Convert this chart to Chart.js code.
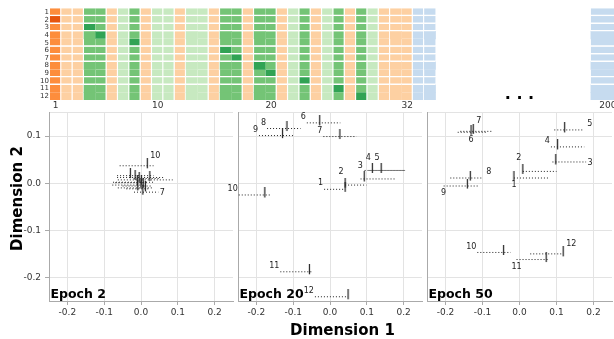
<!DOCTYPE html>
<html><head><meta charset="utf-8">
<script src="https://cdn.jsdelivr.net/npm/chart.js@4.4.0/dist/chart.umd.min.js"></script>
<style>
html,body{margin:0;padding:0;background:#fff;overflow:hidden;width:614px;height:339px;position:relative;}
canvas{position:absolute;}
</style></head><body>
<canvas id="heat" width="614" height="112" style="left:0;top:0"></canvas>
<canvas id="p1" width="238" height="234" style="left:0;top:105px"></canvas>
<canvas id="p2" width="201" height="234" style="left:226px;top:105px"></canvas>
<canvas id="p3" width="202" height="234" style="left:415px;top:105px"></canvas>
<script>
// ---------------- DATA ----------------
const heatRowLabels = ['1','2','3','4','5','6','7','8','9','10','11','12'];
const heatColLabels = ['1','2','3','4','5','6','7','8','9','10','11','12','13','14','15','16','17','18','19','20','21','22','23','24','25','26','27','28','29','30','31','32','33','34','200'];
const heatColClass  = ['O','o','o','G','G','o','g','G','o','g','g','o','g','g','o','G','G','o','G','G','o','g','G','o','g','G','o','G','g','o','o','o','b','b','b'];
const heatDarkCells = [[2,1],[3,4],[4,5],[5,8],[6,16],[7,17],[8,19],[9,20],[10,23],[11,26],[12,28]];
const heatTickLabels = ['1','10','20','32','200'];

const pointLabels = ['1','2','3','4','5','6','7','8','9','10','11','12'];
const epochTitles = ['Epoch 2','Epoch 20','Epoch 50'];
const dim1Ticks = [-0.2,-0.1,0.0,0.1,0.2];
const dim2Ticks = [-0.2,-0.1,0.0,0.1];

const e2X  = [-0.029,-0.016,-0.005, 0.001, 0.006, 0.024, 0.005,-0.009, 0.000, 0.017, 0.012,-0.010];
const e2Y  = [ 0.016, 0.012, 0.007, 0.002,-0.004, 0.010,-0.019,-0.010,-0.006, 0.037,-0.012, 0.001];
const e2Lo = [-0.065,-0.065,-0.063,-0.076,-0.078,-0.020,-0.019,-0.063,-0.050,-0.058,-0.040,-0.070];
const e2Hi = [ 0.034, 0.061, 0.086, 0.034, 0.008, 0.050, 0.047, 0.034, 0.030, 0.034, 0.025, 0.015];

const e20X  = [ 0.041, 0.041, 0.093, 0.115, 0.139,-0.028, 0.027,-0.117,-0.129,-0.177,-0.056, 0.049];
const e20Y  = [-0.013,-0.004, 0.009, 0.027, 0.027, 0.128, 0.099, 0.116, 0.101,-0.025,-0.188,-0.241];
const e20Lo = [-0.016, 0.041, 0.083, 0.094, 0.107,-0.063,-0.018,-0.171,-0.193,-0.248,-0.135,-0.041];
const e20Hi = [ 0.041, 0.099, 0.178, 0.205, 0.205, 0.028, 0.072,-0.080,-0.100,-0.159,-0.047, 0.049];

const e50X  = [-0.015, 0.009, 0.098, 0.103, 0.122,-0.131,-0.125,-0.133,-0.141,-0.043, 0.072, 0.118];
const e50Y  = [ 0.011, 0.025, 0.045, 0.077, 0.113, 0.108, 0.110, 0.011,-0.006,-0.147,-0.162,-0.150];
const e50Lo = [-0.015, 0.009, 0.089, 0.085, 0.094,-0.167,-0.160,-0.187,-0.205,-0.114,-0.008, 0.029];
const e50Hi = [ 0.078, 0.100, 0.180, 0.175, 0.175,-0.086,-0.073,-0.098,-0.112,-0.024, 0.080, 0.118];

// label placement (style): l=left of interval, a=above tick, ar=above-right, r=right, rm=right-middle, b=below, bl=below start
const e2Lab  = [null,null,null,null,null,null,'rm',null,null,'ar',null,null];
const e20Lab = ['l','a','a','a','a','l','l','l','l','l','l','l'];
const e50Lab = ['bl','a','rm','l','r','b','ar','r','bl','l','bl','ar'];

// ---------------- STYLE / LAYOUT ----------------
Chart.defaults.font.family = '"DejaVu Sans", sans-serif';
const CLASS_COLORS = {O:'#fd8d3c', o:'#fdd0a2', G:'#74c476', g:'#c7e9c0', b:'#c6dbef'};
const DARK_COLORS = {O:'#e6550d', G:'#31a354'};
const NO_GAP_AFTER_COL = ['4','13','16','19','31','34','200'];
const NO_GAP_AFTER_ROW = ['4','8','11','12'];
const COL200_SLOT = 49.7, COL200_WIDTH = 34, ELLIPSIS_SLOT = 41.9, LAST_DIRECT_COL = 34;
const slotOf = c => (+c <= LAST_DIRECT_COL ? +c : COL200_SLOT);
const isDark = (r, c) => heatDarkCells.some(([rr, cc]) => String(rr) === r && String(cc) === c);

const heatDatasets = [];
const mainIdx = heatColLabels.map((c,i)=>i).filter(i => +heatColLabels[i] <= LAST_DIRECT_COL);
const farIdx  = heatColLabels.map((c,i)=>i).filter(i => +heatColLabels[i] >  LAST_DIRECT_COL);
heatRowLabels.forEach((r) => {
  const mk = (idxs, extra) => Object.assign({
    data: idxs.map(i => ({x: slotOf(heatColLabels[i]), y: 1})),
    backgroundColor: idxs.map(i => {
      const cls = heatColClass[i];
      return isDark(r, heatColLabels[i]) ? DARK_COLORS[cls] : CLASS_COLORS[cls];
    }),
    borderColor: '#ffffff',
    borderWidth: idxs.map(i => ({top:0, left:0,
      right: NO_GAP_AFTER_COL.includes(heatColLabels[i]) ? 0 : 1.5,
      bottom: NO_GAP_AFTER_ROW.includes(r) ? 0 : 1.5})),
    borderSkipped: false,
    barPercentage: 1, categoryPercentage: 1
  }, extra);
  heatDatasets.push(mk(mainIdx, {}));
  heatDatasets.push(mk(farIdx, {barThickness: COL200_WIDTH}));
});

const ellipsisPlugin = {
  id: 'ellipsis',
  afterDraw(chart) {
    const ctx = chart.ctx;
    const x = chart.scales.x.getPixelForValue(ELLIPSIS_SLOT);
    ctx.save();
    ctx.font = 'bold 16px "DejaVu Sans"';
    ctx.fillStyle = '#000';
    ctx.textAlign = 'center';
    ctx.textBaseline = 'alphabetic';
    ctx.fillText('. . .', x, 99.3);
    ctx.restore();
  }
};

new Chart(document.getElementById('heat'), {
  type: 'bar',
  data: {datasets: heatDatasets},
  options: {
    responsive: false, animation: false, events: [],
    layout: {padding: {top: 8.3, left: 0, right: 0, bottom: 0}},
    plugins: {legend: {display: false}, tooltip: {enabled: false}},
    scales: {
      x: {type: 'linear', stacked: true, offset: false, min: 0.5, max: 50.24,
        grid: {display: false, drawTicks: false, offset: false}, border: {display: false},
        afterBuildTicks: s => { s.ticks = heatTickLabels.map(l => ({value: slotOf(l)})); },
        ticks: {autoSkip: false, maxRotation: 0, padding: 0, font: {size: 9}, color: '#333',
          callback: (v, i) => heatTickLabels[i]},
        afterFit: s => { s.height = 12; s.paddingLeft = 0; s.paddingRight = 0; }
      },
      y: {type: 'linear', stacked: true, reverse: true, min: 0, max: 12,
        grid: {display: false, drawTicks: false}, border: {display: false},
        afterBuildTicks: s => { s.ticks = heatRowLabels.map((l, i) => ({value: i + 0.5})); },
        ticks: {autoSkip: false, padding: 1, font: {size: 7}, color: '#333',
          callback: (v, i) => heatRowLabels[i]},
        afterFit: s => { s.width = 50; s.paddingTop = 0; s.paddingBottom = 0; }
      }
    }
  },
  plugins: [ellipsisPlugin]
});

// tick marker image
const tickImg = document.createElement('canvas');
tickImg.width = 3; tickImg.height = 15;
(function(){ const c = tickImg.getContext('2d'); c.fillStyle = '#222'; c.fillRect(0.9, 0, 1.2, 10); })();

function makePanel(id, P, first, padLeft, titles) {
  const ds = [];
  P.x.forEach((_, i) => ds.push({
    data: [{x: P.lo[i], y: P.y[i]}, {x: P.hi[i], y: P.y[i]}],
    showLine: true, borderColor: '#222', borderWidth: 1, borderDash: [1, 2],
    pointRadius: 0, fill: false
  }));
  ds.push({data: P.x.map((v, i) => ({x: v, y: P.y[i]})), pointStyle: tickImg, pointRadius: 3, showLine: false});

  const textPlugin = {
    id: 'panelText',
    afterDatasetsDraw(chart) {
      const {ctx, chartArea, scales: {x, y}} = chart;
      ctx.save();
      ctx.fillStyle = '#222';
      ctx.font = '8px "DejaVu Sans"';
      P.lab.forEach((pos, i) => {
        if (!pos) return;
        const px = x.getPixelForValue(P.x[i]), py = y.getPixelForValue(P.y[i]);
        const plo = x.getPixelForValue(P.lo[i]), phi = x.getPixelForValue(P.hi[i]);
        let tx, ty, al = 'left', bl = 'bottom';
        if (pos === 'l') { tx = plo - 1; ty = py - 2; al = 'right'; }
        else if (pos === 'a') { tx = px - 4; ty = py - 9; al = 'center'; }
        else if (pos === 'ar') { tx = px + 3; ty = py - 6; }
        else if (pos === 'r') { tx = phi + 3; ty = py - 2; }
        else if (pos === 'rm') { tx = phi + 1.5; ty = py + 1; bl = 'middle'; }
        else if (pos === 'b') { tx = px; ty = py + 4; al = 'center'; bl = 'top'; }
        else if (pos === 'bl') { tx = plo; ty = py + 3; al = 'center'; bl = 'top'; }
        ctx.textAlign = al; ctx.textBaseline = bl;
        ctx.fillText(pointLabels[i], tx, ty);
      });
      ctx.fillStyle = '#000';
      ctx.font = 'bold 12.5px "DejaVu Sans"';
      ctx.textAlign = 'left'; ctx.textBaseline = 'alphabetic';
      ctx.fillText(P.title, chartArea.left + 1.5, chartArea.bottom - 3.5);
      ctx.font = 'bold 15px "DejaVu Sans"';
      if (titles.x) {
        ctx.textAlign = 'center';
        ctx.fillText(titles.x.text, titles.x.cx, titles.x.base);
      }
      if (titles.y) {
        ctx.translate(titles.y.base, titles.y.cy);
        ctx.rotate(-Math.PI / 2);
        ctx.textAlign = 'center';
        ctx.fillText(titles.y.text, 0, 0);
      }
      ctx.restore();
    }
  };

  return new Chart(document.getElementById(id), {
    type: 'scatter',
    data: {datasets: ds},
    options: {
      responsive: false, animation: false, events: [],
      layout: {padding: {top: 7.5, left: padLeft, right: 0, bottom: 0}},
      plugins: {legend: {display: false}, tooltip: {enabled: false}},
      scales: {
        x: {type: 'linear', min: -0.25, max: 0.25, offset: false,
          afterBuildTicks: s => { s.ticks = dim1Ticks.map(v => ({value: v})); },
          ticks: {autoSkip: false, maxRotation: 0, padding: 2, font: {size: 9}, color: '#333',
            callback: v => v.toFixed(1)},
          grid: {color: '#e3e3e3', tickColor: '#aaa', tickLength: 4},
          border: {color: '#aaa'},
          afterFit: s => { s.height = 38; s.paddingLeft = 0; s.paddingRight = 0; }
        },
        y: {type: 'linear', min: -0.25, max: 0.15,
          afterBuildTicks: s => { s.ticks = dim2Ticks.concat([s.max]).map(v => ({value: v})); },
          ticks: {display: first, autoSkip: false, padding: 4, font: {size: 9}, color: '#333',
            callback: v => (dim2Ticks.includes(v) ? v.toFixed(1) : '')},
          grid: {color: '#e3e3e3', drawTicks: first, tickLength: 4,
            tickColor: c => (c.tick && !dim2Ticks.includes(c.tick.value)) ? 'rgba(0,0,0,0)' : '#aaa'},
          border: {color: '#aaa'},
          afterFit: s => { s.width = first ? 49 : 0; s.paddingTop = 0; s.paddingBottom = 0; }
        }
      }
    },
    plugins: [textPlugin]
  });
}

makePanel('p1', {x: e2X, y: e2Y, lo: e2Lo, hi: e2Hi, lab: e2Lab, title: epochTitles[0]}, true, 0,
  {y: {text: 'Dimension 2', base: 21.7, cy: 93.5}});
makePanel('p2', {x: e20X, y: e20Y, lo: e20Lo, hi: e20Hi, lab: e20Lab, title: epochTitles[1]}, false, 12,
  {x: {text: 'Dimension 1', cx: 116.5, base: 230}});
makePanel('p3', {x: e50X, y: e50Y, lo: e50Lo, hi: e50Hi, lab: e50Lab, title: epochTitles[2]}, false, 12, {});
</script>
</body></html>
